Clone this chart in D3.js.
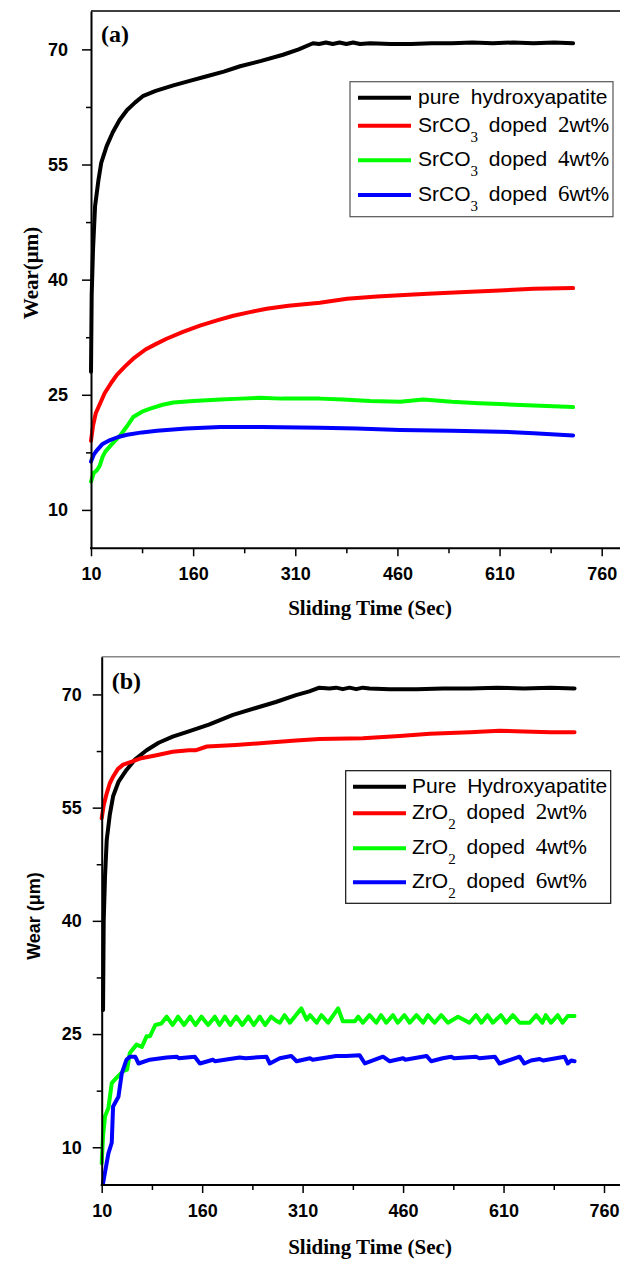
<!DOCTYPE html>
<html>
<head>
<meta charset="utf-8">
<script src="https://cdn.jsdelivr.net/npm/d3@7"></script>
<style>
  body { margin: 0; background: #fff; }
  svg { display: block; }
</style>
</head>
<body>
<div id="chart"></div>
<script>
// ---- data: [sliding time (s), wear (um)] ----
// panel (a) SrCO3
const hapA = [[10,28],[11,38],[13,44],[16,49.6],[21,53],[25,55.2],[33,57.4],[42,59.2],[52,60.8],[63,62.1],[75,63.1],[86,63.9],[105,64.6],[131,65.3],[155,65.9],[180,66.5],[205,67.1],[229,67.8],[260,68.5],[292,69.3],[315,70],[336,70.8],[345,70.7],[355,70.9],[365,70.7],[375,70.9],[385,70.7],[395,70.9],[405,70.7],[420,70.8],[450,70.7],[480,70.7],[510,70.8],[540,70.8],[570,70.9],[600,70.8],[630,70.9],[660,70.8],[690,70.9],[718,70.8]];
const sr2 = [[10,19],[13,21],[17,22.6],[23,23.8],[30,25.2],[40,26.6],[48,27.6],[60,28.7],[72,29.7],[90,30.9],[105,31.6],[121,32.3],[145,33.2],[170,34.0],[195,34.7],[219,35.3],[245,35.8],[268,36.2],[300,36.6],[346,37.0],[386,37.5],[430,37.8],[470,38.0],[512,38.2],[560,38.4],[610,38.6],[660,38.8],[718,38.9]];
const sr4 = [[10,13.7],[14,14.8],[19,15.2],[23,15.8],[27,16.9],[31,17.6],[40,18.5],[53,19.7],[62,20.8],[72,22.1],[85,22.8],[97,23.2],[115,23.7],[131,24.0],[160,24.2],[200,24.4],[230,24.5],[258,24.6],[290,24.5],[320,24.5],[346,24.5],[380,24.4],[420,24.2],[464,24.1],[498,24.4],[540,24.1],[580,23.9],[610,23.8],[660,23.6],[718,23.4]];
const sr6 = [[10,16.3],[14,17.2],[19,17.8],[27,18.6],[38,19.1],[50,19.5],[63,19.8],[85,20.1],[107,20.3],[150,20.6],[200,20.8],[260,20.8],[346,20.7],[400,20.6],[464,20.4],[540,20.3],[610,20.2],[660,20.0],[718,19.7]];

// panel (b) ZrO2
const hapB = [[12,28.2],[13,40],[15,46],[17.5,50.7],[22,54],[27,56.5],[35,58.4],[47,60],[60,61.4],[77,62.6],[95,63.6],[116,64.4],[140,65.1],[170,66],[206,67.3],[240,68.2],[270,69],[300,69.9],[320,70.4],[335,70.9],[350,70.8],[360,70.9],[370,70.7],[380,70.9],[390,70.7],[400,70.9],[410,70.8],[440,70.7],[480,70.7],[520,70.8],[560,70.8],[600,70.9],[640,70.8],[680,70.9],[716,70.8]];
const zr2 = [[10,53.6],[13,55.3],[17.5,56.9],[22,58.2],[27,59.1],[34,60.1],[42,60.7],[55,61.1],[67,61.5],[90,61.9],[116,62.4],[140,62.6],[150,62.6],[167,63.1],[210,63.3],[256,63.6],[300,63.9],[335,64.1],[400,64.2],[455,64.5],[500,64.8],[560,65.0],[604,65.2],[640,65.1],[680,65.0],[716,65.0]];
const zr4 = [[10,7.9],[12,11.5],[15,14.1],[20,15.2],[25,18.5],[32,19.2],[42,20.1],[48,20.3],[52,22.5],[62,23.6],[70,23.3],[77,24.7],[82,24.7],[90,26.2],[99,26.4],[107,27.3],[116,26.2],[124,27.3],[133,26.2],[142,27.3],[150,26.2],[159,27.3],[169,26.2],[179,27.3],[186,26.2],[194,27.3],[202,26.2],[211,27.3],[220,26.2],[229,27.3],[237,26.2],[246,27.3],[254,26.2],[263,27.3],[270,26.8],[276,26.5],[283,27.5],[291,26.5],[308,28.4],[316,26.9],[321,27.5],[331,26.5],[338,27.5],[348,26.5],[363,28.4],[370,26.7],[388,26.7],[393,27.3],[400,26.5],[410,27.5],[420,26.5],[427,27.5],[435,26.5],[445,27.5],[452,26.5],[462,27.5],[470,26.5],[480,27.5],[490,26.5],[497,27.5],[507,26.5],[517,27.5],[527,26.5],[542,27.3],[559,26.5],[569,27.5],[577,26.5],[586,27.5],[594,26.5],[606,27.5],[614,26.5],[624,27.5],[634,26.5],[649,26.5],[659,27.5],[668,26.5],[673,27.5],[681,26.5],[691,27.5],[698,26.5],[706,27.4],[716,27.4]];
const zr6 = [[12,5.2],[20,9.2],[25,10.6],[27,15.4],[35,16.7],[40,19.8],[47,21.6],[52,22.0],[60,22.0],[65,21.1],[82,21.6],[107,21.9],[122,22.0],[125,21.8],[149,22.0],[156.6,21.1],[176,21.6],[179,21.4],[216,21.9],[225,21.8],[256,22.0],[261,21.1],[276,21.8],[293,22.1],[301,21.4],[321,21.8],[325,21.6],[360,22.1],[375,22.1],[395,22.2],[403,21.1],[430,22.0],[440,21.4],[460,21.8],[463,21.6],[495,22.1],[502,21.4],[519,21.8],[532,22.0],[536,21.8],[569,22.0],[574,21.8],[597,22.0],[604,21.1],[634,22.0],[641,21.1],[651,21.5],[664,21.7],[669,21.5],[701,22.0],[706,21.1],[711,21.5],[716,21.4]];

const xTicks = [10, 160, 310, 460, 610, 760];
const xMinor = [85, 235, 385, 535, 685];
const yTicks = [10, 25, 40, 55, 70];
const yMinor = [17.5, 32.5, 47.5, 62.5];
const colors = ['#000000', '#ff0000', '#00ff00', '#0000ff'];
const levels = ['2', '4', '6'];

const W = 620, H = 1262;
const SANS = "Arial, 'Liberation Sans', sans-serif";
const SERIF = "'Times New Roman', 'Liberation Serif', serif";

const svg = d3.select('#chart').append('svg')
    .attr('width', W).attr('height', H)
    .attr('viewBox', `0 0 ${W} ${H}`);

const panels = [
  { tag: '(a)', series: [hapA, sr2, sr4, sr6], first: 'pure hydroxyapatite', dopant: 'SrCO', sub: '3',
    left: 91, x760: 601.7, top: 11, bottom: 548.3, frame: '#000', yPad: 14, box: '#555',
    ytitle: 'Wear(\u03bcm)', ytitleFont: SERIF, ytitleSize: 21, ytitleX: 38, ytitleY: 273,
    legend: { x: 350, y: 81.7, w: 263, h: 135, rows: [97.7, 125.7, 160.3, 195], lx: 358, tx: 418 },
    xtitleY: 615, tagY: 42 },
  { tag: '(b)', series: [hapB, zr2, zr4, zr6], first: 'Pure Hydroxyapatite', dopant: 'ZrO', sub: '2',
    left: 101.7, x760: 604, top: 656.7, bottom: 1185, frame: '#888', yPad: 11, box: '#111',
    ytitle: 'Wear (\u03bcm)', ytitleFont: SANS, ytitleSize: 18, ytitleX: 40, ytitleY: 916,
    legend: { x: 345.7, y: 770.7, w: 265, h: 132.6, rows: [786.7, 813.3, 848.3, 882.3], lx: 353, tx: 412 },
    xtitleY: 1254, tagY: 689 }
];

panels.forEach(p => {
  const g = svg.append('g');
  const x = d3.scaleLinear().domain([10, 760]).range([p.left, p.x760]);
  const y = d3.scaleLinear().domain([5, 75]).range([p.bottom, p.top]);

  // top frame line
  g.append('line')
      .attr('x1', p.left).attr('x2', W)
      .attr('y1', y(75)).attr('y2', y(75))
      .attr('stroke', p.frame).attr('stroke-width', 1.5);

  const line = d3.line().x(d => x(d[0])).y(d => y(d[1]));
  g.selectAll('path.curve')
    .data(p.series)
    .join('path')
      .attr('class', 'curve')
      .attr('d', line)
      .attr('fill', 'none')
      .attr('stroke', (d, i) => colors[i])
      .attr('stroke-width', 4)
      .attr('stroke-linejoin', 'round')
      .attr('stroke-linecap', 'round');

  // y axis
  g.append('g')
      .attr('transform', `translate(${p.left},0)`)
      .call(d3.axisLeft(y).tickValues(yTicks).tickSize(9).tickSizeOuter(0).tickPadding(p.yPad));
  g.append('g')
      .attr('transform', `translate(${p.left},0)`)
      .call(d3.axisLeft(y).tickValues(yMinor).tickSize(5).tickFormat(''))
      .select('.domain').remove();

  // x axis
  const xAxis = g.append('g')
      .attr('transform', `translate(0,${p.bottom})`)
      .call(d3.axisBottom(x).tickValues(xTicks).tickSize(8).tickSizeOuter(0).tickPadding(11));
  xAxis.select('.domain').remove();
  g.append('g')
      .attr('transform', `translate(0,${p.bottom})`)
      .call(d3.axisBottom(x).tickValues(xMinor).tickSize(5).tickFormat(''))
      .select('.domain').remove();
  g.append('line')
      .attr('x1', p.left - 1).attr('x2', W)
      .attr('y1', p.bottom).attr('y2', p.bottom)
      .attr('stroke', '#000').attr('stroke-width', 2);

  g.selectAll('.domain').attr('stroke-width', 2);
  g.selectAll('.tick line').attr('stroke-width', 1.5);
  g.selectAll('.tick text')
      .attr('font-family', SANS)
      .attr('font-weight', 'bold')
      .attr('font-size', 18)
      .attr('fill', '#000');

  // titles
  g.append('text')
      .attr('x', x(10) + 10).attr('y', p.tagY)
      .attr('font-family', SERIF).attr('font-weight', 'bold').attr('font-size', 24)
      .text(p.tag);
  g.append('text')
      .attr('x', 370).attr('y', p.xtitleY)
      .attr('text-anchor', 'middle')
      .attr('font-family', SERIF).attr('font-weight', 'bold').attr('font-size', 21)
      .text('Sliding Time (Sec)');
  g.append('text')
      .attr('transform', `translate(${p.ytitleX},${p.ytitleY}) rotate(-90)`)
      .attr('text-anchor', 'middle')
      .attr('font-family', p.ytitleFont).attr('font-weight', 'bold').attr('font-size', p.ytitleSize)
      .text(p.ytitle);

  // legend
  const L = p.legend;
  g.append('rect')
      .attr('x', L.x).attr('y', L.y).attr('width', L.w).attr('height', L.h)
      .attr('fill', '#fff').attr('stroke', p.box).attr('stroke-width', 1.2);
  L.rows.forEach((ry, i) => {
    g.append('line')
        .attr('x1', L.lx).attr('x2', L.lx + 53)
        .attr('y1', ry).attr('y2', ry)
        .attr('stroke', colors[i]).attr('stroke-width', 4);
    const t = g.append('text')
        .attr('x', L.tx).attr('y', ry + 6)
        .attr('font-family', SANS).attr('font-size', 21)
        .attr('word-spacing', 5)
        .attr('fill', '#000');
    if (i === 0) {
      t.text(p.first);
    } else {
      t.append('tspan').text(p.dopant);
      t.append('tspan').attr('font-family', SERIF).attr('font-size', 15).attr('dy', 10).text(p.sub);
      t.append('tspan').attr('dy', -10).text(' doped ');
      t.append('tspan').attr('font-family', SERIF).attr('font-size', 23).text(levels[i - 1]);
      t.append('tspan').text('wt%');
    }
  });
});
</script>
</body>
</html>
